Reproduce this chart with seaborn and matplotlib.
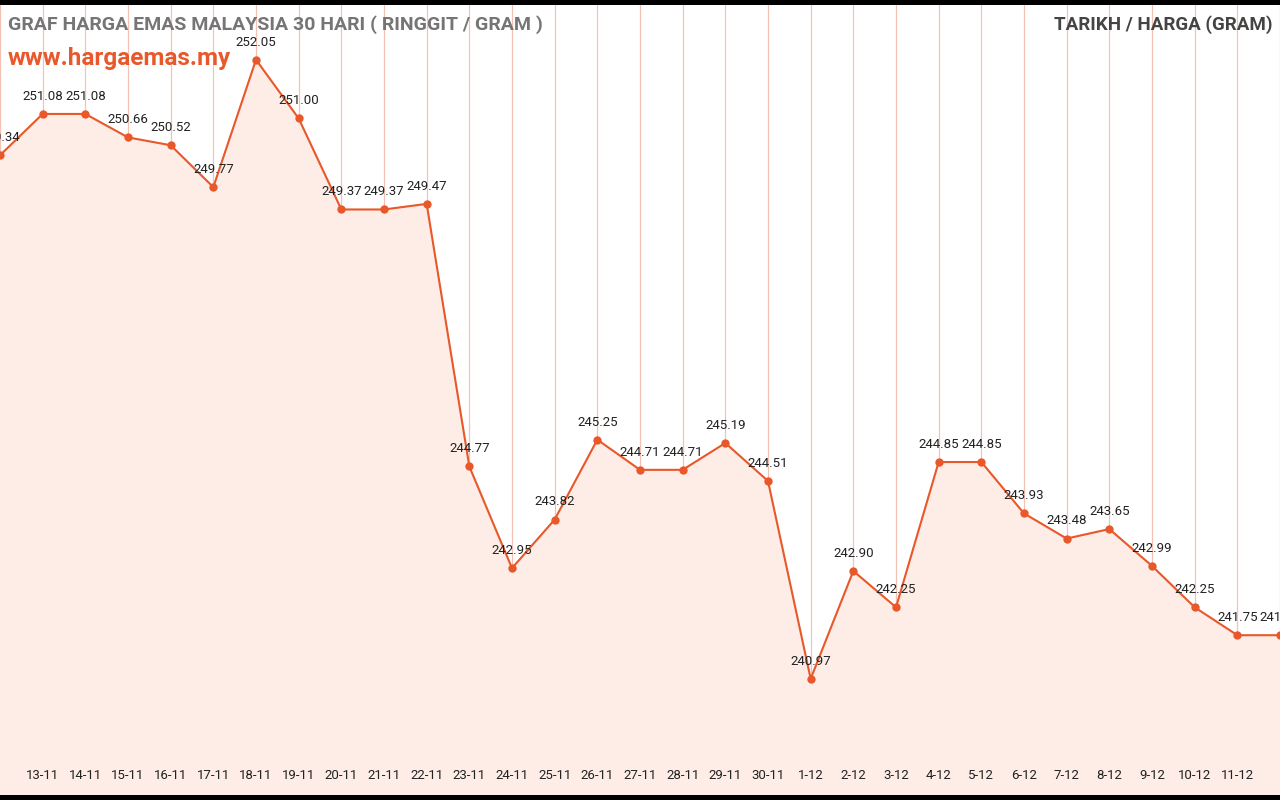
import numpy as np
import pandas as pd
import matplotlib.pyplot as plt
import seaborn as sns

dates = ['12-11', '13-11', '14-11', '15-11', '16-11', '17-11', '18-11', '19-11', '20-11', '21-11',
         '22-11', '23-11', '24-11', '25-11', '26-11', '27-11', '28-11', '29-11', '30-11', '1-12',
         '2-12', '3-12', '4-12', '5-12', '6-12', '7-12', '8-12', '9-12', '10-12', '11-12', '12-12']
prices = [250.34, 251.08, 251.08, 250.66, 250.52, 249.77, 252.05, 251.00, 249.37, 249.37,
          249.47, 244.77, 242.95, 243.82, 245.25, 244.71, 244.71, 245.19, 244.51, 240.97,
          242.90, 242.25, 244.85, 244.85, 243.93, 243.48, 243.65, 242.99, 242.25, 241.75, 241.75]

df = pd.DataFrame({'idx': np.arange(len(dates)), 'price': prices})

sns.set_style('white')
plt.rcParams['font.family'] = ['Roboto', 'DejaVu Sans']
orange = '#E8582A'

fig = plt.figure(figsize=(12.8, 8), dpi=100, facecolor='black')
ax = fig.add_axes([0, 5/800, 1, 790/800])
ax.set_facecolor('white')
ymin, ymax = 238.89, 253.03
ax.set_xlim(0, len(dates) - 1)
ax.set_ylim(ymin, ymax)

for i in df['idx']:
    ax.axvline(i, color='#F4C2B4', lw=0.9, zorder=0)
ax.fill_between(df['idx'], df['price'], ymin, color='#FDEDE6', zorder=1)
sns.lineplot(data=df, x='idx', y='price', ax=ax, color=orange, lw=1.5,
             marker='o', markersize=6, markeredgewidth=0, zorder=3)

for i, p in zip(df['idx'], df['price']):
    ax.annotate(f'{p:.2f}', (i, p), xytext=(0, 8), textcoords='offset points',
                ha='center', va='bottom', fontsize=9.5, color='#222222')
    if i > 0 and i < len(dates) - 1:
        ax.text(i, 0.025, dates[i], transform=ax.get_xaxis_transform(),
                ha='center', va='center', fontsize=9.5, color='#222222')

ax.set_xticks([])
ax.set_yticks([])
ax.set_xlabel('')
ax.set_ylabel('')
for s in ax.spines.values():
    s.set_visible(False)

fig.text(8/1280, 1 - 25/800, 'GRAF HARGA EMAS MALAYSIA 30 HARI ( RINGGIT / GRAM )',
         ha='left', va='center', fontsize=14, fontweight='bold', color='#757575')
fig.text(1272/1280, 1 - 25/800, 'TARIKH / HARGA (GRAM)',
         ha='right', va='center', fontsize=13.5, fontweight='bold', color='#444444')
fig.text(8/1280, 1 - 59/800, 'www.hargaemas.my',
         ha='left', va='center', fontsize=17.5, fontweight='bold', color=orange)

fig.savefig('out.png', dpi=100, facecolor='black')
